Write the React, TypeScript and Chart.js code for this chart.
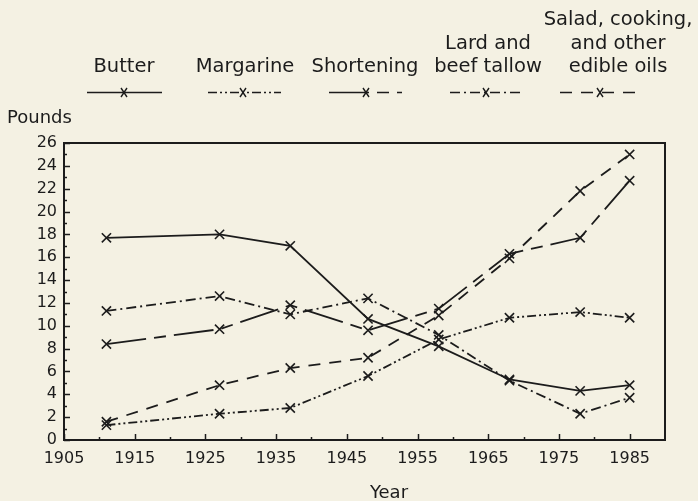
import React, { useEffect, useRef } from "react";
import { Chart, registerables } from "chart.js";

Chart.register(...registerables);

// ---- Data ----
const years = [1911, 1927, 1937, 1948, 1958, 1968, 1978, 1985];
const butter = [17.7, 18.0, 17.0, 10.6, 8.2, 5.3, 4.3, 4.8];
const margarine = [1.3, 2.3, 2.8, 5.6, 8.8, 10.7, 11.2, 10.7];
const shortening = [8.4, 9.7, 11.8, 9.6, 11.5, 16.3, 17.7, 22.7];
const lard = [11.3, 12.6, 11.0, 12.4, 9.2, 5.2, 2.3, 3.7];
const salad = [1.6, 4.8, 6.3, 7.2, 10.9, 15.9, 21.8, 25.0];

const seriesNames = [
  "Butter",
  "Margarine",
  "Shortening",
  "Lard and beef tallow",
  "Salad, cooking, and other edible oils",
];
const legendLabelLines = [
  ["Butter"],
  ["Margarine"],
  ["Shortening"],
  ["Lard and", "beef tallow"],
  ["Salad, cooking,", "and other", "edible oils"],
];
const xTickValues = [1905, 1915, 1925, 1935, 1945, 1955, 1965, 1975, 1985];
const xMin = 1905;
const xMax = 1990;
const yMin = 0;
const yMax = 26;
const yStep = 2;
const yAxisTitle = "Pounds";
const xAxisTitle = "Year";

// ---- Styles ----
const FONT = "'DejaVu Sans', sans-serif";
const INK = "#1c1c1c";
const BG = "#f4f1e3";
const dashes: number[][] = [
  [],
  [9, 3, 2, 3, 2, 3],
  [40, 8, 12, 8],
  [10, 4, 2, 4],
  [12, 9],
];
const legendLayout = [
  { cx: 124, x0: 87, x1: 162, mx: 124 },
  { cx: 245, x0: 208, x1: 281, mx: 243 },
  { cx: 365, x0: 329, x1: 402, mx: 366 },
  { cx: 488, x0: 450, x1: 520, mx: 486 },
  { cx: 618, x0: 560, x1: 642, mx: 600 },
];

const seriesValues = [butter, margarine, shortening, lard, salad];

const decorPlugin = {
  id: "decor",
  beforeDraw(chart: any) {
    const ctx = chart.ctx;
    ctx.save();
    ctx.fillStyle = BG;
    ctx.fillRect(0, 0, chart.width, chart.height);
    ctx.restore();
  },
  afterDraw(chart: any) {
    const ctx = chart.ctx;
    const { left, right, top, bottom } = chart.chartArea;
    const xs = chart.scales.x;
    const ys = chart.scales.y;
    ctx.save();
    ctx.strokeStyle = INK;
    ctx.setLineDash([]);
    // box
    ctx.lineWidth = 2;
    ctx.strokeRect(left, top, right - left, bottom - top);
    // y ticks (inward)
    ctx.lineWidth = 1.5;
    for (let v = yMin; v <= yMax; v += 1) {
      const y = Math.round(ys.getPixelForValue(v)) + 0.5;
      const len = v % yStep === 0 ? 6 : 3;
      ctx.beginPath();
      ctx.moveTo(left, y);
      ctx.lineTo(left + len, y);
      ctx.stroke();
    }
    // x ticks (inward)
    for (let v = xMin; v <= 1985; v += 5) {
      const x = Math.round(xs.getPixelForValue(v)) + 0.5;
      const len = (v - xMin) % 10 === 0 ? 6 : 3;
      ctx.beginPath();
      ctx.moveTo(x, bottom);
      ctx.lineTo(x, bottom - len);
      ctx.stroke();
    }
    // axis titles
    ctx.fillStyle = INK;
    ctx.font = `18px ${FONT}`;
    ctx.textBaseline = "middle";
    ctx.textAlign = "left";
    ctx.fillText(yAxisTitle, 7, 118);
    ctx.textAlign = "center";
    ctx.fillText(xAxisTitle, 389, 493);

    // legend
    ctx.font = `19.5px ${FONT}`;
    legendLabelLines.forEach((lines, i) => {
      const L = legendLayout[i];
      const n = lines.length;
      lines.forEach((t, j) => {
        const y = 67 - (n - 1 - j) * 23.5;
        ctx.fillText(t, L.cx, y);
      });
      const ly = 92.5;
      ctx.lineWidth = 1.7;
      ctx.setLineDash(dashes[i]);
      ctx.beginPath();
      ctx.moveTo(L.x0, ly);
      ctx.lineTo(L.x1, ly);
      ctx.stroke();
      ctx.setLineDash([]);
      ctx.lineWidth = 1.4;
      ctx.beginPath();
      ctx.moveTo(L.mx - 3, ly - 4.5);
      ctx.lineTo(L.mx + 3, ly + 4.5);
      ctx.moveTo(L.mx + 3, ly - 4.5);
      ctx.lineTo(L.mx - 3, ly + 4.5);
      ctx.stroke();
    });
    ctx.restore();
  },
};

export default function App() {
  const ref = useRef<HTMLCanvasElement | null>(null);
  useEffect(() => {
    document.body.style.margin = "0";
    document.body.style.background = BG;
    const canvas = ref.current;
    if (!canvas) return;
    const chart = new Chart(canvas, {
      type: "line",
      data: {
        datasets: seriesValues.map((vals, i) => ({
          label: seriesNames[i],
          data: years.map((yr, k) => ({ x: yr, y: vals[k] })),
          borderColor: INK,
          backgroundColor: INK,
          borderWidth: 1.8,
          borderDash: dashes[i],
          pointStyle: "crossRot",
          pointRadius: 6.5,
          pointBorderWidth: 1.6,
          pointBorderColor: INK,
          tension: 0,
          fill: false,
        })),
      },
      options: {
        responsive: false,
        animation: false,
        layout: { padding: { top: 143, right: 33, left: 0, bottom: 0 } },
        plugins: {
          legend: { display: false },
          tooltip: { enabled: false },
        },
        scales: {
          x: {
            type: "linear",
            min: xMin,
            max: xMax,
            afterBuildTicks: (s: any) => {
              s.ticks = xTickValues.map((v) => ({ value: v }));
            },
            afterFit: (s: any) => {
              s.height = 61;
            },
            grid: { display: false, drawTicks: false },
            border: { display: false },
            ticks: {
              padding: 9,
              color: INK,
              font: { family: FONT, size: 16 },
              maxRotation: 0,
              autoSkip: false,
              callback: (v: any) => String(v),
            },
          },
          y: {
            type: "linear",
            min: yMin,
            max: yMax,
            afterFit: (s: any) => {
              s.width = 64;
            },
            grid: { display: false, drawTicks: false },
            border: { display: false },
            ticks: {
              stepSize: yStep,
              padding: 7,
              color: INK,
              font: { family: FONT, size: 16 },
              autoSkip: false,
            },
          },
        },
      },
      plugins: [decorPlugin],
    } as any);
    return () => chart.destroy();
  }, []);
  return (
    <canvas
      ref={ref}
      width={698}
      height={501}
      style={{ display: "block", width: 698, height: 501 }}
    />
  );
}
